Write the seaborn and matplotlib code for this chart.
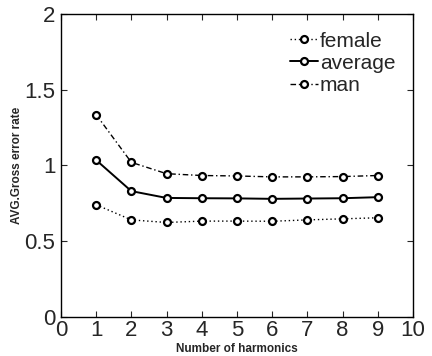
import matplotlib
matplotlib.use("Agg")
import matplotlib.pyplot as plt
import seaborn as sns
import pandas as pd

harmonics = [1, 2, 3, 4, 5, 6, 7, 8, 9]
female = [0.74, 0.64, 0.623, 0.632, 0.632, 0.631, 0.64, 0.647, 0.654]
average = [1.035, 0.83, 0.785, 0.783, 0.782, 0.779, 0.781, 0.783, 0.79]
man = [1.335, 1.02, 0.945, 0.933, 0.93, 0.924, 0.924, 0.926, 0.933]

series = ["female", "average", "man"]
styles = {"female": (0, (1, 2)), "average": "-", "man": (0, (4, 2, 1, 2))}

df = pd.DataFrame({"harmonics": harmonics * 3,
                   "rate": female + average + man,
                   "series": sum([[s] * len(harmonics) for s in series], [])})

sns.set_style("ticks")
plt.rcParams["font.family"] = ["Liberation Sans", "DejaVu Sans"]

fig = plt.figure(figsize=(4.32, 3.56), dpi=100)
ax = fig.add_axes([0.141, 0.110, 0.815, 0.851])

for s in series:
    sub = df[df["series"] == s]
    sns.lineplot(data=sub, x="harmonics", y="rate", ax=ax, color="black",
                 linestyle=styles[s], linewidth=1.4 if s == "average" else 1.0,
                 marker="o", markersize=5, markerfacecolor="white",
                 markeredgecolor="black", markeredgewidth=1.6, label=s)

ax.set_xlim(0, 10)
ax.set_ylim(0, 2)
ax.set_xticks(range(0, 11))
ax.set_yticks([0, 0.5, 1, 1.5, 2])
ax.set_yticklabels(["0", "0.5", "1", "1.5", "2"])
ax.tick_params(direction="in", top=True, right=True, labelsize=16, length=4, width=0.8)
ax.tick_params(axis="x", pad=2)
ax.tick_params(axis="y", pad=4)
for sp in ax.spines.values():
    sp.set_linewidth(1.0)
    sp.set_color("black")
ax.set_xlabel("Number of harmonics", fontsize=8.5, fontweight="bold", va="bottom")
ax.xaxis.set_label_coords(0.5, -0.125)
ax.set_ylabel("AVG.Gross error rate", fontsize=8.5, fontweight="bold", labelpad=1)

leg = ax.legend(loc="upper right", frameon=False, fontsize=15, handlelength=1.35,
                handletextpad=0.1, labelspacing=0.15, borderaxespad=0.45)

fig.savefig("out.png", dpi=100)
